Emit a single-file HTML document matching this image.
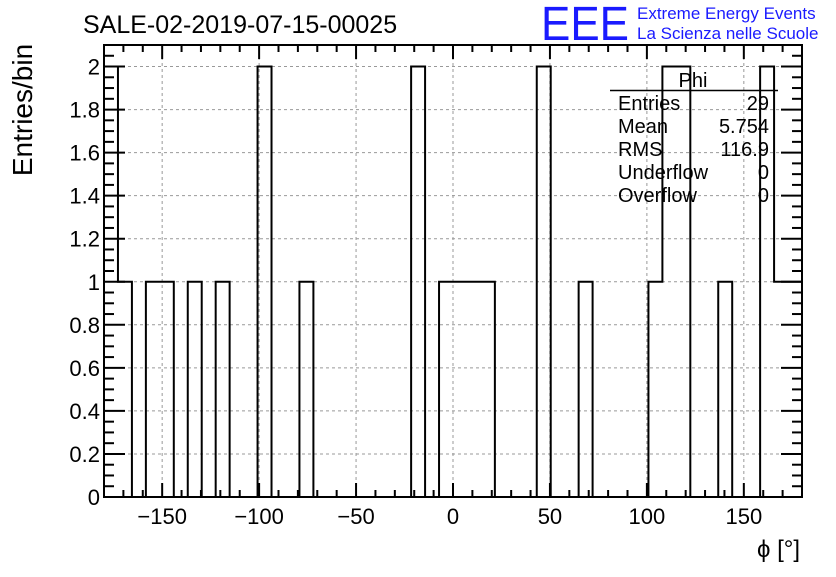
<!DOCTYPE html>
<html><head><meta charset="utf-8"><style>
body{margin:0;background:#fff}
svg text{font-family:"Liberation Sans",sans-serif}
</style></head><body>
<svg id="c" width="836" height="572" xmlns="http://www.w3.org/2000/svg">
<rect width="836" height="572" fill="#fff"/>
<text x="83" y="33" font-size="25">SALE-02-2019-07-15-00025</text>
<text x="541" y="40" font-size="48" fill="#1a1aff" textLength="88" lengthAdjust="spacingAndGlyphs">EEE</text>
<text x="637" y="19" font-size="17" fill="#1a1aff">Extreme Energy Events</text>
<text x="637" y="39" font-size="17" fill="#1a1aff">La Scienza nelle Scuole</text>
<text transform="translate(32,110) rotate(-90)" text-anchor="middle" font-size="28">Entries/bin</text>
<text x="800" y="557" text-anchor="end" font-size="24">ϕ [°]</text>
<g id="grid"></g><g id="hist"></g><g id="axes"></g>
<g>
<line x1="610" y1="90.5" x2="778" y2="90.5" stroke="#000" stroke-width="1.5"/>
<text x="693" y="87" text-anchor="middle" font-size="20">Phi</text>
<text x="618" y="110" font-size="20">Entries</text><text x="769" y="110" text-anchor="end" font-size="20">29</text>
<text x="618" y="133" font-size="20">Mean</text><text x="769" y="133" text-anchor="end" font-size="20">5.754</text>
<text x="618" y="156" font-size="20">RMS</text><text x="769" y="156" text-anchor="end" font-size="20">116.9</text>
<text x="618" y="179" font-size="20">Underflow</text><text x="769" y="179" text-anchor="end" font-size="20">0</text>
<text x="618" y="202" font-size="20">Overflow</text><text x="769" y="202" text-anchor="end" font-size="20">0</text>
</g>
</svg>
<script>
const binCounts=[2,1,0,1,1,0,1,0,1,0,0,2,0,0,1,0,0,0,0,0,0,0,2,0,1,1,1,1,0,0,0,2,0,0,1,0,0,0,0,1,2,2,0,0,1,0,0,2,1,1];
const xRange=[-180,180];
const yRange=[0,2.1];
const xTicks=[-150,-100,-50,0,50,100,150];
const xTickLabels=["\u2212150","\u2212100","\u221250","0","50","100","150"];
const yTicks=[0,0.2,0.4,0.6,0.8,1,1.2,1.4,1.6,1.8,2];
const yTickLabels=["0","0.2","0.4","0.6","0.8","1","1.2","1.4","1.6","1.8","2"];
const L=104,R=802,T=45,B=497;
const X=v=>L+(v-xRange[0])/(xRange[1]-xRange[0])*(R-L);
const Y=v=>B-(v-yRange[0])/(yRange[1]-yRange[0])*(B-T);
const NS="http://www.w3.org/2000/svg";
function mk(tag,attrs,parent){const e=document.createElementNS(NS,tag);for(const k in attrs)e.setAttribute(k,attrs[k]);parent.appendChild(e);return e;}
const grid=document.getElementById('grid'),hist=document.getElementById('hist'),axes=document.getElementById('axes');
xTicks.forEach(v=>{const g=mk('line',{x1:X(v),x2:X(v),y1:T,y2:B,stroke:'#999','stroke-dasharray':'3,3','stroke-width':1},grid);

});
yTicks.forEach(v=>{const g=mk('line',{x1:L,x2:R,y1:Y(v),y2:Y(v),stroke:'#999','stroke-dasharray':'3,3','stroke-width':1},grid);

});
const n=binCounts.length,bw=(xRange[1]-xRange[0])/n;
let d='M'+X(xRange[0])+','+Y(0);
binCounts.forEach((c,i)=>{const x0=X(xRange[0]+i*bw),x1=X(xRange[0]+(i+1)*bw);d+=' L'+x0+','+Y(c)+' L'+x1+','+Y(c);});
d+=' L'+X(xRange[1])+','+Y(0);
const p=mk('path',{d:d,fill:'none',stroke:'#000','stroke-width':2},hist);


const f=mk('rect',{x:L,y:T,width:R-L,height:B-T,fill:'none',stroke:'#000','stroke-width':2},axes);


for(let v=-180;v<=180;v+=10){const major=v%50===0;const len=major?14:7;
mk('line',{x1:X(v),x2:X(v),y1:B,y2:B-len,stroke:'#000','stroke-width':2},axes);
mk('line',{x1:X(v),x2:X(v),y1:T,y2:T+len,stroke:'#000','stroke-width':2},axes);}
for(let k=0;k<=42;k++){const v=k*0.05;const major=k%4===0;const len=major?21:10;
mk('line',{x1:L,x2:L+len,y1:Y(v),y2:Y(v),stroke:'#000','stroke-width':2},axes);
mk('line',{x1:R,x2:R-len,y1:Y(v),y2:Y(v),stroke:'#000','stroke-width':2},axes);}
xTicks.forEach((v,i)=>{const t=mk('text',{x:X(v),y:B+27,'text-anchor':'middle','font-size':22},axes);t.textContent=xTickLabels[i];

});
yTicks.forEach((v,i)=>{const t=mk('text',{x:L-4,y:Y(v)+8,'text-anchor':'end','font-size':22},axes);t.textContent=yTickLabels[i];

});
</script>
</body></html>
